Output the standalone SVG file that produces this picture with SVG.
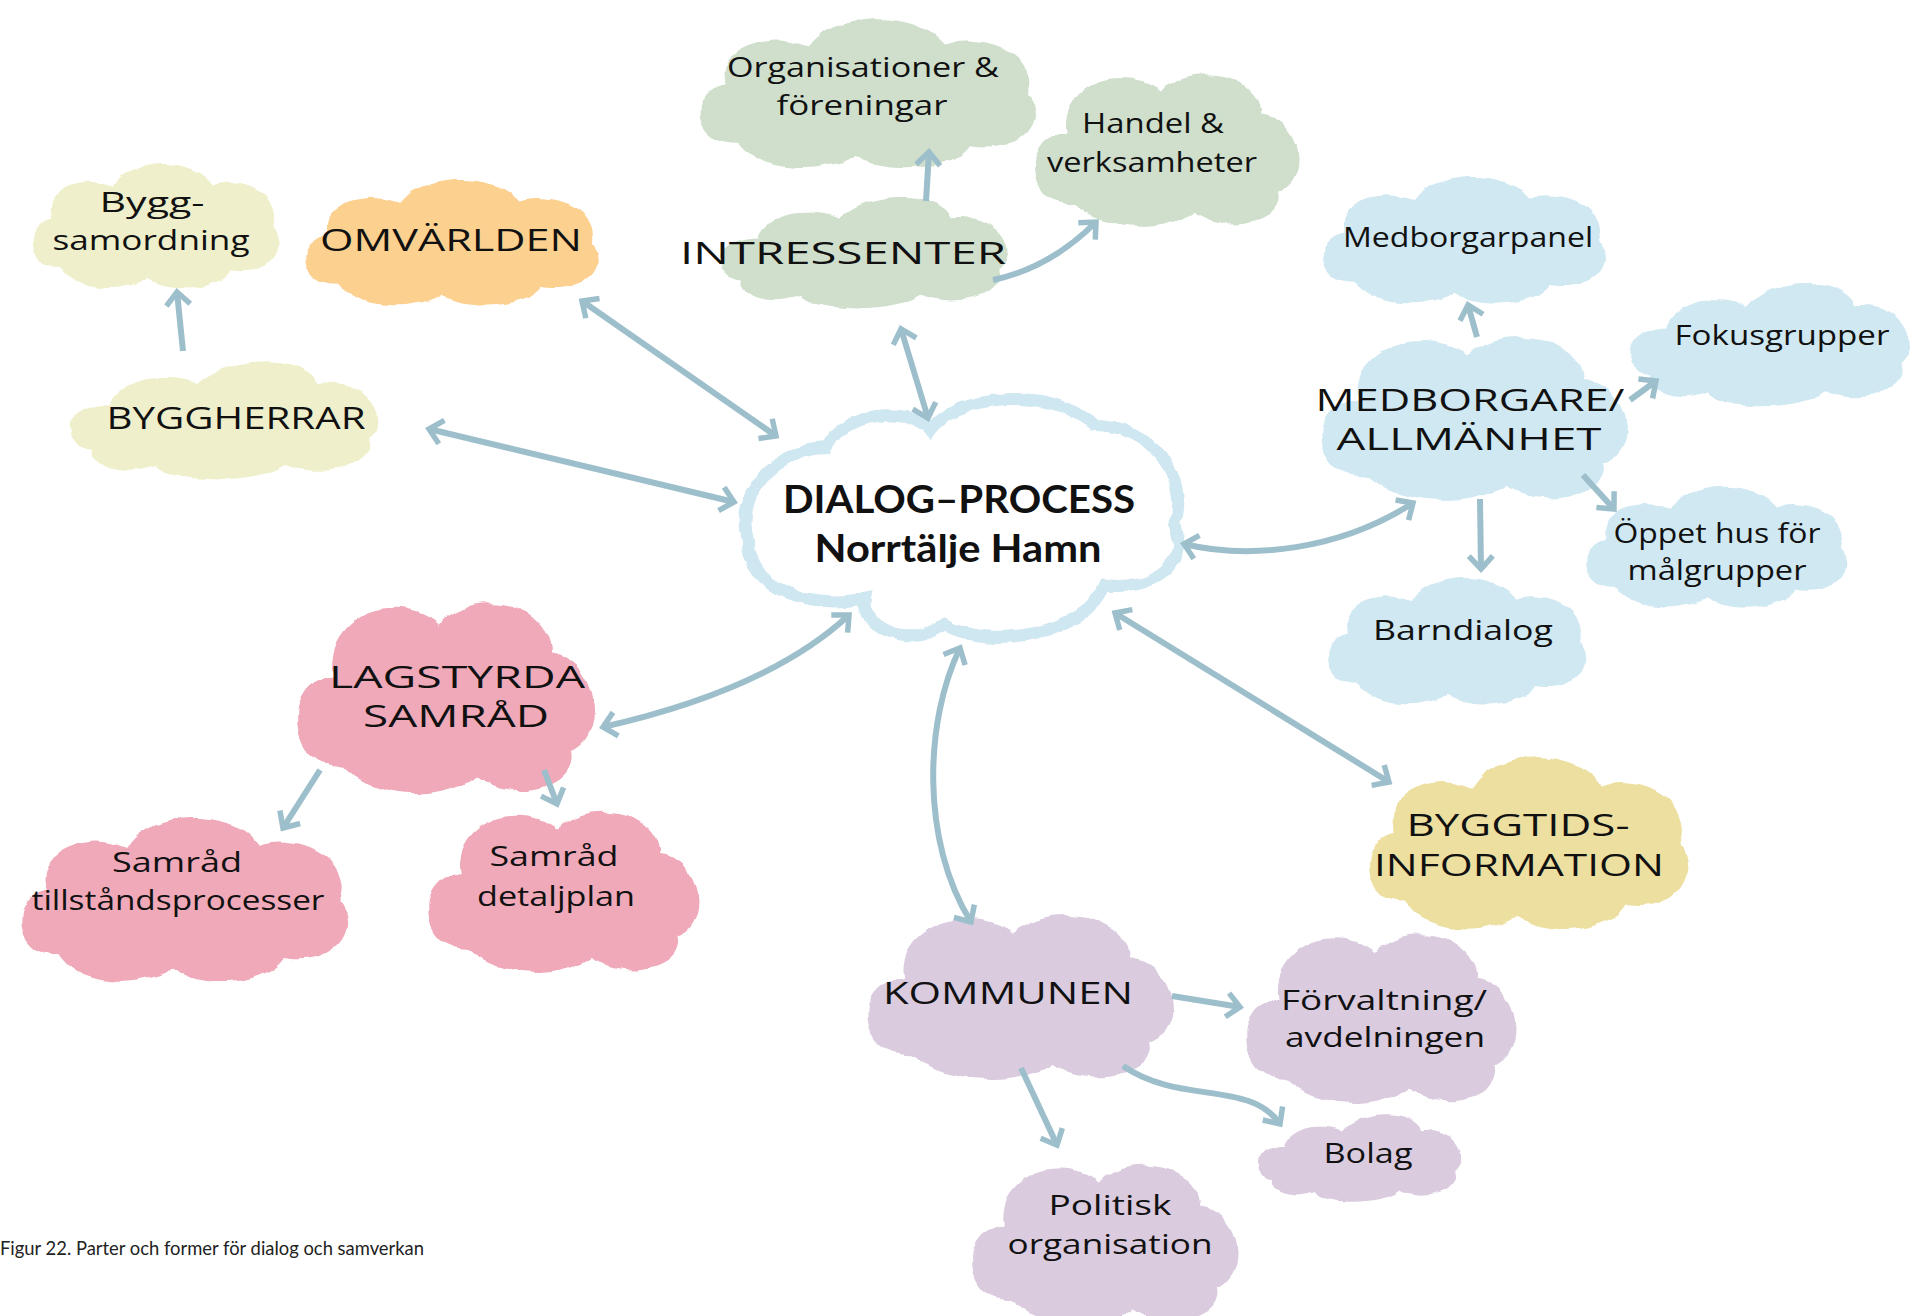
<svg xmlns="http://www.w3.org/2000/svg" xmlns:xlink="http://www.w3.org/1999/xlink" width="1910" height="1316" viewBox="0 0 1910 1316">
<style>
.hw{font-family:"Open Sans","DejaVu Sans",sans-serif;font-size:27px;fill:#111;text-anchor:middle}
.cap{font-size:31px}
.title{font-family:Lato,"Noto Sans",sans-serif;font-weight:700;font-size:38px;fill:#111;text-anchor:middle}
.caption{font-family:Lato,"Noto Sans",sans-serif;font-weight:400;font-size:19px;fill:#222}
.conn{fill:none;stroke:#9dbfcc;stroke-width:6;marker-end:url(#ah)}
.two{marker-start:url(#ah)}
.c-ylg{fill:#eff0cb}
.c-org{fill:#fcd08f}
.c-grn{fill:#cfdfcc}
.c-blu{fill:#d0e8f2}
.c-yel{fill:#ecdfa0}
.c-pnk{fill:#f0a9b9}
.c-pur{fill:#dacbdf}
.cloud{filter:url(#rough)}
</style>
<defs>
<filter id="rough" x="-10%" y="-10%" width="120%" height="120%">
<feTurbulence type="fractalNoise" baseFrequency="0.06" numOctaves="2" seed="4"/>
<feDisplacementMap in="SourceGraphic" scale="6" xChannelSelector="R" yChannelSelector="G"/>
</filter>
<path id="cloudA" d="M28,100 C2,100 -2,62 22,55 C14,28 45,14 68,26 C82,0 130,-2 145,24 C172,14 202,38 192,62 C206,84 186,108 160,102 C148,122 108,124 96,108 C78,124 40,122 28,100 Z"/>
<path id="cloudB" d="M35,104 C0,106 -4,52 30,50 C24,14 70,-4 98,18 C118,-4 170,4 170,36 C200,40 206,84 182,94 C188,120 140,126 122,110 C104,126 56,126 35,104 Z"/>
<path id="cloudC" d="M20,90 C-4,84 0,50 30,48 C35,22 70,18 85,30 C100,2 150,0 160,28 C190,24 206,60 190,78 C200,104 160,118 140,104 C120,124 70,122 58,106 C40,116 16,108 20,90 Z"/>
<marker id="ah" viewBox="-16 -16 20 32" markerWidth="20" markerHeight="32" refX="0" refY="0" orient="auto-start-reverse" markerUnits="userSpaceOnUse">
<path d="M-13,-12 L0,0 L-13,12" fill="none" stroke="#9dbfcc" stroke-width="5.5"/>
</marker>
</defs>
<rect width="1910" height="1316" fill="#fff"/>

<g id="n-byggsamordning">
<use href="#cloudA" class="cloud c-ylg" transform="translate(24,158) scale(1.295,1.1)"/>
<text class="hw" x="152" y="212" textLength="105" lengthAdjust="spacingAndGlyphs">Bygg-</text>
<text class="hw" x="151" y="250" textLength="197" lengthAdjust="spacingAndGlyphs">samordning</text>
</g>
<g id="n-omvarlden">
<use href="#cloudA" class="cloud c-org" transform="translate(295,174) scale(1.54,1.108)"/>
<text class="hw cap" x="451" y="251" textLength="262" lengthAdjust="spacingAndGlyphs">OMVÄRLDEN</text>
</g>
<g id="n-byggherrar">
<use href="#cloudC" class="cloud c-ylg" transform="translate(61,353) scale(1.615,1.067)"/>
<text class="hw cap" x="236" y="429" textLength="259" lengthAdjust="spacingAndGlyphs">BYGGHERRAR</text>
</g>
<g id="n-organisationer">
<use href="#cloudA" class="cloud c-grn" transform="translate(688,12) scale(1.765,1.317)"/>
<text class="hw" x="863" y="77" textLength="272" lengthAdjust="spacingAndGlyphs">Organisationer &amp;</text>
<text class="hw" x="862" y="115" textLength="171" lengthAdjust="spacingAndGlyphs">föreningar</text>
</g>
<g id="n-handel">
<use href="#cloudB" class="cloud c-grn" transform="translate(1025,67) scale(1.39,1.317)"/>
<text class="hw" x="1153" y="133" textLength="142" lengthAdjust="spacingAndGlyphs">Handel &amp;</text>
<text class="hw" x="1152" y="172" textLength="210" lengthAdjust="spacingAndGlyphs">verksamheter</text>
</g>
<g id="n-intressenter">
<use href="#cloudC" class="cloud c-grn" transform="translate(712,189) scale(1.505,1.008)"/>
<text class="hw cap" x="843" y="264" textLength="326" lengthAdjust="spacingAndGlyphs">INTRESSENTER</text>
</g>
<g id="n-dialog">
<path d="M748,540 C735,495 775,450 825,448 C845,412 905,405 930,430 C955,395 1050,385 1095,425 C1150,425 1190,475 1175,525 C1190,565 1150,592 1105,585 C1085,635 990,650 945,625 C905,650 860,625 865,598 C815,610 745,590 748,540 Z" fill="#fff" stroke="#cfe7f1" stroke-width="12" class="cloud"/>
<text class="title" x="959" y="513" textLength="352" lengthAdjust="spacingAndGlyphs">DIALOG–PROCESS</text>
<text class="title" x="958" y="562" textLength="287" lengthAdjust="spacingAndGlyphs">Norrtälje Hamn</text>
</g>
<g id="n-medborgarpanel">
<use href="#cloudA" class="cloud c-blu" transform="translate(1313,171) scale(1.485,1.117)"/>
<text class="hw" x="1468" y="247" textLength="250" lengthAdjust="spacingAndGlyphs">Medborgarpanel</text>
</g>
<g id="n-medborgare">
<use href="#cloudB" class="cloud c-blu" transform="translate(1310,329) scale(1.61,1.417)"/>
<text class="hw cap" x="1470" y="411" textLength="309" lengthAdjust="spacingAndGlyphs">MEDBORGARE/</text>
<text class="hw cap" x="1469" y="450" textLength="265" lengthAdjust="spacingAndGlyphs">ALLMÄNHET</text>
</g>
<g id="n-fokusgrupper">
<use href="#cloudC" class="cloud c-blu" transform="translate(1622,274) scale(1.465,1.117)"/>
<text class="hw" x="1782" y="345" textLength="215" lengthAdjust="spacingAndGlyphs">Fokusgrupper</text>
</g>
<g id="n-oppethus">
<use href="#cloudA" class="cloud c-blu" transform="translate(1577,481) scale(1.37,1.067)"/>
<text class="hw" x="1717" y="543" textLength="207" lengthAdjust="spacingAndGlyphs">Öppet hus för</text>
<text class="hw" x="1717" y="580" textLength="179" lengthAdjust="spacingAndGlyphs">målgrupper</text>
</g>
<g id="n-barndialog">
<use href="#cloudA" class="cloud c-blu" transform="translate(1319,572) scale(1.355,1.117)"/>
<text class="hw" x="1463" y="640" textLength="180" lengthAdjust="spacingAndGlyphs">Barndialog</text>
</g>
<g id="n-byggtids">
<use href="#cloudA" class="cloud c-yel" transform="translate(1358,749) scale(1.675,1.525)"/>
<text class="hw cap" x="1518" y="836" textLength="223" lengthAdjust="spacingAndGlyphs">BYGGTIDS-</text>
<text class="hw cap" x="1519" y="876" textLength="290" lengthAdjust="spacingAndGlyphs">INFORMATION</text>
</g>
<g id="n-lagstyrda">
<use href="#cloudB" class="cloud c-pnk" transform="translate(286,594) scale(1.565,1.65)"/>
<text class="hw cap" x="457" y="688" textLength="256" lengthAdjust="spacingAndGlyphs">LAGSTYRDA</text>
<text class="hw cap" x="456" y="727" textLength="186" lengthAdjust="spacingAndGlyphs">SAMRÅD</text>
</g>
<g id="n-samrad-tillstand">
<use href="#cloudA" class="cloud c-pnk" transform="translate(10,810) scale(1.715,1.45)"/>
<text class="hw" x="177" y="872" textLength="130" lengthAdjust="spacingAndGlyphs">Samråd</text>
<text class="hw" x="178" y="910" textLength="293" lengthAdjust="spacingAndGlyphs">tillståndsprocesser</text>
</g>
<g id="n-samrad-detaljplan">
<use href="#cloudB" class="cloud c-pnk" transform="translate(418,804) scale(1.425,1.392)"/>
<text class="hw" x="554" y="866" textLength="129" lengthAdjust="spacingAndGlyphs">Samråd</text>
<text class="hw" x="556" y="906" textLength="158" lengthAdjust="spacingAndGlyphs">detaljplan</text>
</g>
<g id="n-kommunen">
<use href="#cloudB" class="cloud c-pur" transform="translate(856,907) scale(1.61,1.425)"/>
<text class="hw cap" x="1008" y="1004" textLength="250" lengthAdjust="spacingAndGlyphs">KOMMUNEN</text>
</g>
<g id="n-forvaltning">
<use href="#cloudB" class="cloud c-pur" transform="translate(1236,926) scale(1.42,1.467)"/>
<text class="hw" x="1384" y="1010" textLength="206" lengthAdjust="spacingAndGlyphs">Förvaltning/</text>
<text class="hw" x="1385" y="1047" textLength="200" lengthAdjust="spacingAndGlyphs">avdelningen</text>
</g>
<g id="n-bolag">
<use href="#cloudC" class="cloud c-pur" transform="translate(1252,1108) scale(1.065,0.792)"/>
<text class="hw" x="1368" y="1163" textLength="89" lengthAdjust="spacingAndGlyphs">Bolag</text>
</g>
<g id="n-politisk">
<use href="#cloudB" class="cloud c-pur" transform="translate(962,1157) scale(1.4,1.375)"/>
<text class="hw" x="1110" y="1215" textLength="123" lengthAdjust="spacingAndGlyphs">Politisk</text>
<text class="hw" x="1110" y="1254" textLength="205" lengthAdjust="spacingAndGlyphs">organisation</text>
</g>

<g id="connectors">
<path class="conn" d="M183,351 L177,292"/>
<path class="conn two" d="M582,301 L776,436"/>
<path class="conn two" d="M429,429 L734,502"/>
<path class="conn two" d="M901,329 L928,418"/>
<path class="conn" d="M926,201 L929,152"/>
<path class="conn" d="M993,280 Q1050,268 1096,222"/>
<path class="conn two" d="M1184,544 C1250,560 1340,550 1413,503"/>
<path class="conn" d="M1477,337 L1468,305"/>
<path class="conn" d="M1630,400 L1656,381"/>
<path class="conn" d="M1583,475 L1614,509"/>
<path class="conn" d="M1480,499 L1481,569"/>
<path class="conn two" d="M1115,613 L1389,782"/>
<path class="conn two" d="M849,615 C790,670 700,705 603,727"/>
<path class="conn" d="M320,770 L283,828"/>
<path class="conn" d="M544,770 L557,804"/>
<path class="conn two" d="M960,648 C925,720 920,840 971,922"/>
<path class="conn" d="M1172,996 L1240,1007"/>
<path class="conn" d="M1123,1066 C1180,1105 1250,1080 1280,1124"/>
<path class="conn" d="M1021,1068 L1057,1145"/>
</g>

<text class="caption" x="0" y="1255" textLength="424" lengthAdjust="spacingAndGlyphs">Figur 22. Parter och former för dialog och samverkan</text>
</svg>
